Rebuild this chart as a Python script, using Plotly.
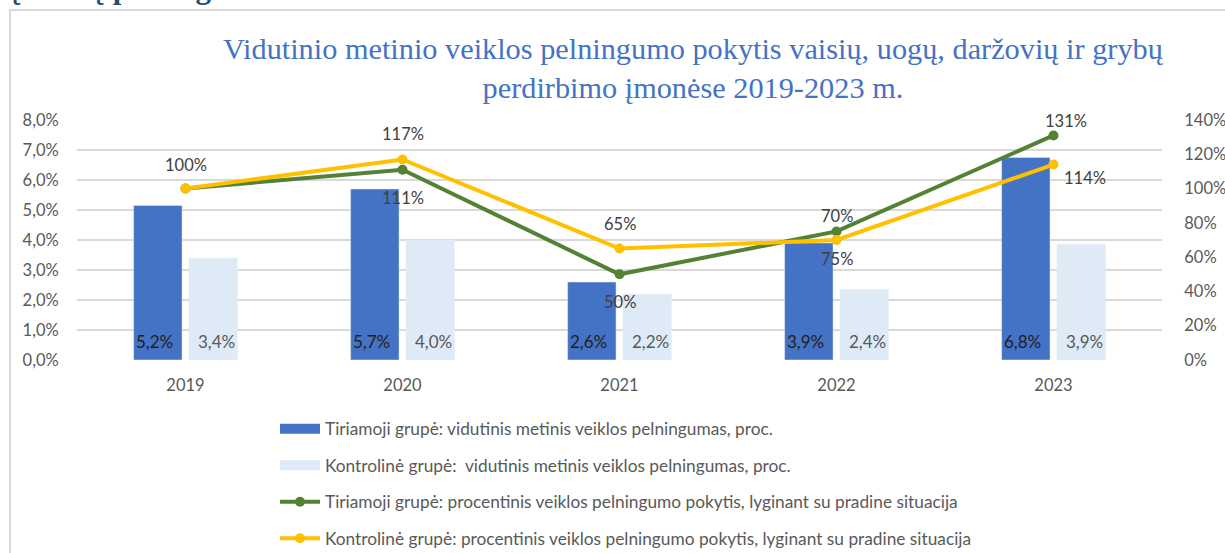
import plotly.graph_objects as go

# ---------------- data ----------------
years = ["2019", "2020", "2021", "2022", "2023"]
tiriamoji_pelningumas = [5.15, 5.7, 2.6, 3.9, 6.75]      # % (left axis)
kontroline_pelningumas = [3.4, 4.0, 2.2, 2.35, 3.85]     # % (left axis)
tiriamoji_pokytis = [100, 111, 50, 75, 131]              # % (right axis)
kontroline_pokytis = [100, 117, 65, 70, 114]             # % (right axis)

name_bar1 = "Tiriamoji grupė: vidutinis metinis veiklos pelningumas, proc."
name_bar2 = "Kontrolinė grupė:  vidutinis metinis veiklos pelningumas, proc."
name_line1 = "Tiriamoji grupė: procentinis veiklos pelningumo pokytis, lyginant su pradine situacija"
name_line2 = "Kontrolinė grupė: procentinis veiklos pelningumo pokytis, lyginant su pradine situacija"
title_text = ("Vidutinio metinio veiklos pelningumo pokytis vaisių, uogų, daržovių ir grybų<br>"
              "perdirbimo įmonėse 2019-2023 m.")
top_text = "įmonių pelningumai"

# ---------------- styles ----------------
W, H = 1225, 553
L, R, T, B = 77, 1162, 120, 360   # plot area in pixels
C_BLUE = "#4472C4"
C_LIGHT = "#DEEBF7"
C_GREEN = "#548235"
C_YELLOW = "#FFC000"
C_TEXT = "#595959"
C_LABEL = "#404040"
FONT = "Lato"

# label offsets (xshift, yshift) per point
green_shifts = [None, (0, -28), (0, -28), (0, -28), (12, 14)]
yellow_shifts = [(0, 24), (0, 25), (0, 25), (0, 24), (31, -13)]
BAR_SHIFT = 31      # px from category centre to each bar centre
BAR_LABEL_UP = 19   # px from axis base to bar label centre


def px_x(px):
    return (px - L) / (R - L)


def px_y(py):
    return (B - py) / (B - T)


fig = go.Figure()

fig.add_trace(go.Bar(
    x=years, y=tiriamoji_pelningumas, name=name_bar1, marker_color=C_BLUE,
    showlegend=False, yaxis="y", hoverinfo="skip"))
fig.add_trace(go.Bar(
    x=years, y=kontroline_pelningumas, name=name_bar2, marker_color=C_LIGHT,
    showlegend=False, yaxis="y", hoverinfo="skip"))

# legend proxies for bars (wide flat rectangles like the reference)
fig.add_trace(go.Scatter(x=[None], y=[None], mode="lines", name=name_bar1,
                         line=dict(color=C_BLUE, width=10), legendgroup="a"))
fig.add_trace(go.Scatter(x=[None], y=[None], mode="lines", name=name_bar2,
                         line=dict(color=C_LIGHT, width=10), legendgroup="b"))

fig.add_trace(go.Scatter(
    x=years, y=tiriamoji_pokytis, name=name_line1, mode="lines+markers",
    line=dict(color=C_GREEN, width=4), marker=dict(color=C_GREEN, size=10),
    yaxis="y2", legendgroup="c"))
fig.add_trace(go.Scatter(
    x=years, y=kontroline_pokytis, name=name_line2, mode="lines+markers",
    line=dict(color=C_YELLOW, width=4), marker=dict(color=C_YELLOW, size=10),
    yaxis="y2", legendgroup="d"))

annotations = []
# bar value labels (inside, at base)
for vals, sh, col in ((tiriamoji_pelningumas, -BAR_SHIFT, "#1f1f1f"),
                      (kontroline_pelningumas, BAR_SHIFT, C_TEXT)):
    for i, v in enumerate(vals):
        annotations.append(dict(
            x=i, y=0, xref="x", yref="y", text=f"{v:.1f}".replace(".", ",") + "%",
            showarrow=False, xshift=sh, yshift=BAR_LABEL_UP, yanchor="middle",
            font=dict(family=FONT, size=17, color=col)))

# line value labels
for vals, shifts in ((tiriamoji_pokytis, green_shifts), (kontroline_pokytis, yellow_shifts)):
    for i, (v, s) in enumerate(zip(vals, shifts)):
        if s is None:
            continue
        annotations.append(dict(
            x=i, y=v, xref="x", yref="y2", text=f"{v:.0f}%", showarrow=False,
            xshift=s[0], yshift=s[1], font=dict(family=FONT, size=16.5, color=C_LABEL)))

annotations.append(dict(
    x=px_x(693), y=px_y(30), xref="paper", yref="paper", yanchor="top", xanchor="center",
    text=title_text, showarrow=False, align="center",
    font=dict(family="Liberation Serif", size=30.3, color=C_BLUE)))

annotations.append(dict(
    x=px_x(10), y=px_y(7), xref="paper", yref="paper", xanchor="left", yanchor="bottom",
    text="<b>" + top_text + "</b>", showarrow=False,
    font=dict(family="Liberation Serif", size=31, color="#1F4E79")))

fig.update_layout(
    width=W, height=H,
    margin=dict(l=L, r=W - R, t=T, b=H - B, pad=0, autoexpand=False),
    paper_bgcolor="white", plot_bgcolor="white",
    separators=",.",
    barmode="group", bargap=0.49, bargroupgap=0.125,
    font=dict(family=FONT, size=16, color=C_TEXT),
    xaxis=dict(type="category", range=[-0.5, 4.5], showgrid=False, zeroline=False,
               showline=False, ticks="outside", ticklen=10, tickcolor="rgba(0,0,0,0)",
               tickfont=dict(family=FONT, size=16.5, color=C_TEXT)),
    yaxis=dict(range=[0, 8], dtick=1, tickformat=".1f", ticksuffix="%",
               showgrid=True, gridcolor="#D9D9D9", gridwidth=1.5, zeroline=False,
               showline=False, ticks="outside", ticklen=14, tickcolor="rgba(0,0,0,0)",
               tickfont=dict(family=FONT, size=16.5, color=C_TEXT)),
    yaxis2=dict(range=[0, 140], dtick=20, ticksuffix="%", overlaying="y", side="right",
                showgrid=False, zeroline=False, showline=False,
                ticks="outside", ticklen=18, tickcolor="rgba(0,0,0,0)",
                tickfont=dict(family=FONT, size=16.5, color=C_TEXT)),
    legend=dict(x=px_x(275), y=px_y(411), xanchor="left", yanchor="top",
                orientation="v", traceorder="grouped", tracegroupgap=11,
                font=dict(family=FONT, size=17.3, color=C_TEXT),
                bgcolor="rgba(0,0,0,0)", itemwidth=40),
    annotations=annotations,
    shapes=[dict(type="rect", xref="paper", yref="paper",
                 x0=px_x(10), x1=px_x(1300), y0=px_y(700), y1=px_y(10),
                 line=dict(color="#D9D9D9", width=2), layer="below")],
    showlegend=True,
)

fig.write_html(
    "out.html",
    config={"displayModeBar": False},
    post_script="document.body.style.margin='0';document.body.style.overflow='hidden';",
)
